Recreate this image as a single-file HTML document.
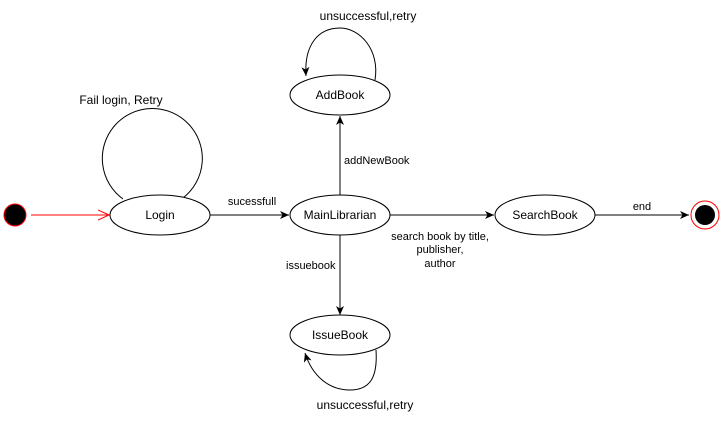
<!DOCTYPE html>
<html><head><style>body{margin:0;background:#fff}svg{display:block}text{font-family:"Liberation Sans",sans-serif;font-size:11px;fill:#000}.n{font-size:12px}</style></head><body>
<svg width="721" height="422" viewBox="0 0 721 422" xmlns="http://www.w3.org/2000/svg">
<defs><marker id="a" markerWidth="10" markerHeight="10" refX="9" refY="5" orient="auto" markerUnits="userSpaceOnUse"><path d="M0,1 L9,5 L0,9 L2.5,5 Z" fill="#000"/></marker>
<marker id="r" markerWidth="12" markerHeight="12" refX="11" refY="6" orient="auto" markerUnits="userSpaceOnUse"><path d="M0,1 L11,6 L0,11" fill="none" stroke="#f00"/></marker></defs>
<g fill="none" stroke="#000">
<line x1="31" y1="215" x2="109" y2="215" stroke="#f00" marker-end="url(#r)"/>
<path d="M123,199 A50,50 0 1 1 183,198"/>
<line x1="210" y1="215" x2="289" y2="215" marker-end="url(#a)"/>
<line x1="340" y1="195" x2="340" y2="116" marker-end="url(#a)"/>
<line x1="340" y1="235" x2="340" y2="315" marker-end="url(#a)"/>
<line x1="390" y1="215" x2="494" y2="215" marker-end="url(#a)"/>
<line x1="595" y1="215" x2="689" y2="215" marker-end="url(#a)"/>
<path d="M375,80 C380,50 360,28 340,28 C318,28 304,45 306,76" marker-end="url(#a)"/>
<path d="M376,350 C378,380 368,390 350,390 C328,390 312,375 305,353" marker-end="url(#a)"/>
<ellipse cx="160" cy="215" rx="50" ry="20" fill="#fff"/>
<ellipse cx="340" cy="215" rx="50" ry="20" fill="#fff"/>
<ellipse cx="340" cy="95" rx="50" ry="20" fill="#fff"/>
<ellipse cx="340" cy="335" rx="50" ry="20" fill="#fff"/>
<ellipse cx="545" cy="215" rx="50" ry="20" fill="#fff"/>
</g>
<circle cx="15" cy="215" r="11" fill="#000" stroke="#f00"/>
<circle cx="705" cy="215" r="14" fill="#fff" stroke="#f00"/>
<circle cx="705" cy="215" r="10" fill="#000"/>
<text class="n" x="160" y="219" text-anchor="middle">Login</text>
<text class="n" x="340" y="219" text-anchor="middle">MainLibrarian</text>
<text class="n" x="340" y="99" text-anchor="middle">AddBook</text>
<text class="n" x="340" y="339" text-anchor="middle">IssueBook</text>
<text class="n" x="545" y="219" text-anchor="middle">SearchBook</text>
<text x="121" y="104" text-anchor="middle" class="n">Fail login, Retry</text>
<text x="252" y="205" text-anchor="middle">sucessfull</text>
<text x="368" y="20" text-anchor="middle" class="n">unsuccessful,retry</text>
<text x="344" y="164">addNewBook</text>
<text x="286" y="269">issuebook</text>
<text x="440" y="240" text-anchor="middle">search book by title,</text>
<text x="440" y="253" text-anchor="middle">publisher,</text>
<text x="440" y="267" text-anchor="middle">author</text>
<text x="642" y="210" text-anchor="middle">end</text>
<text x="365" y="409" text-anchor="middle" class="n">unsuccessful,retry</text>
</svg>
</body></html>
